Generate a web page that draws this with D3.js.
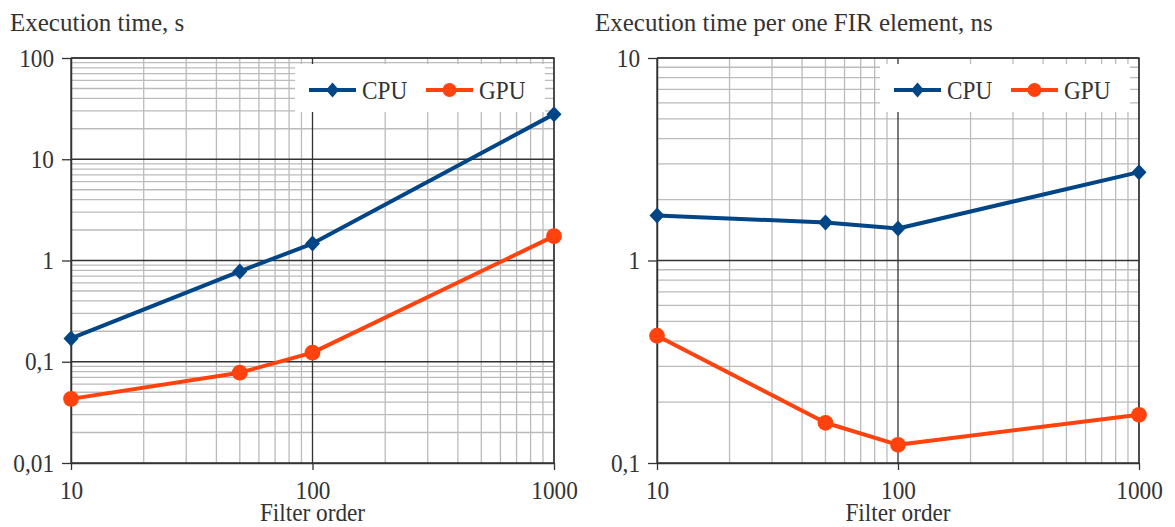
<!DOCTYPE html>
<html>
<head>
<meta charset="utf-8">
<script src="https://cdn.jsdelivr.net/npm/d3@7"></script>
<style>
  body { margin: 0; background: #fff; }
  svg { display: block; font-family: "Liberation Serif", "Times New Roman", serif; }
</style>
</head>
<body>
<div id="container"></div>
<script>
/* DATA */
const filterOrder = [10, 50, 100, 1000];
const cpuTime = [0.17, 0.78, 1.47, 27.9];
const gpuTime = [0.043, 0.078, 0.123, 1.74];
const cpuPerElement = [1.67, 1.54, 1.44, 2.73];
const gpuPerElement = [0.425, 0.158, 0.123, 0.173];

const xTickValues = [10, 100, 1000];
const xTickLabels = ["10", "100", "1000"];
const leftYTickValues = [0.01, 0.1, 1, 10, 100];
const leftYTickLabels = ["0,01", "0,1", "1", "10", "100"];
const rightYTickValues = [0.1, 1, 10];
const rightYTickLabels = ["0,1", "1", "10"];

const seriesNames = ["CPU", "GPU"];
const colors = {CPU: "#004586", GPU: "#ff420e"};

/* CONSTANTS */
const width = 1175, height = 527;
const textColor = "#333";
const squeeze = 0.93; // tick & legend text in the picture is slightly narrow

const svg = d3.select("#container")
  .append("svg")
  .attr("width", width)
  .attr("height", height);

function drawPanel(p) {
  const xScale = d3.scaleLog()
    .domain([10, 1000])
    .range([p.x0, p.x1]);
  const yScale = d3.scaleLog()
    .domain(p.yDomain)
    .range([p.y1, p.y0]);

  const g = svg.append("g");

  // minor grid
  const xMinor = xScale.ticks().filter(v => !xTickValues.includes(v));
  const yMinor = yScale.ticks().filter(v => !p.yTicks.includes(v));

  g.selectAll(".vminor").data(xMinor).join("line")
    .attr("x1", d => xScale(d)).attr("x2", d => xScale(d))
    .attr("y1", p.y0).attr("y2", p.y1)
    .attr("stroke", "#bbb").attr("stroke-width", 1.3);
  g.selectAll(".hminor").data(yMinor).join("line")
    .attr("y1", d => yScale(d)).attr("y2", d => yScale(d))
    .attr("x1", p.x0).attr("x2", p.x1)
    .attr("stroke", "#bbb").attr("stroke-width", 1.3);

  // major grid
  g.selectAll(".vmajor").data(xTickValues).join("line")
    .attr("x1", d => xScale(d)).attr("x2", d => xScale(d))
    .attr("y1", p.y0).attr("y2", p.y1)
    .attr("stroke", "#333").attr("stroke-width", 1.3);
  g.selectAll(".hmajor").data(p.yTicks).join("line")
    .attr("y1", d => yScale(d)).attr("y2", d => yScale(d))
    .attr("x1", p.x0).attr("x2", p.x1)
    .attr("stroke", "#333").attr("stroke-width", 1.3);

  // legend box (covers grid)
  const lx = p.x1 - 259, ly = 64;
  g.append("rect")
    .attr("x", lx).attr("y", ly)
    .attr("width", 250).attr("height", 48)
    .attr("fill", "#fff");

  // axes
  const xAxis = d3.axisBottom(xScale)
    .tickValues(xTickValues)
    .tickFormat((d, i) => xTickLabels[i])
    .tickSizeInner(7).tickSizeOuter(0).tickPadding(11);
  const yAxis = d3.axisLeft(yScale)
    .tickValues(p.yTicks)
    .tickFormat((d, i) => p.yLabels[i])
    .tickSizeInner(9).tickSizeOuter(0).tickPadding(8);

  const gx = g.append("g")
    .attr("transform", `translate(0,${p.y1})`)
    .call(xAxis);
  const gy = g.append("g")
    .attr("transform", `translate(${p.x0},0)`)
    .call(yAxis);

  [gx, gy].forEach(a => {
    a.select(".domain").attr("stroke", "#333").attr("stroke-width", 1.5);
    a.selectAll(".tick line").attr("stroke", "#333").attr("stroke-width", 1.3);
    a.selectAll(".tick text")
      .attr("class", "narrow")
      .attr("fill", textColor)
      .style("font-size", "25px")
      .style("font-family", "Liberation Serif");
  });

  // frame top/right
  g.append("path")
    .attr("d", `M${p.x0},${p.y0}H${p.x1}V${p.y1}`)
    .attr("fill", "none").attr("stroke", "#333").attr("stroke-width", 1.3);

  // lines
  const lineGen = d3.line()
    .x(d => xScale(d[0]))
    .y(d => yScale(d[1]));

  p.series.forEach(s => {
    const pts = filterOrder.map((x, i) => [x, s.values[i]]);
    g.append("path")
      .attr("d", lineGen(pts))
      .attr("fill", "none")
      .attr("stroke", colors[s.name])
      .attr("stroke-width", 4)
      .attr("stroke-linejoin", "round");
    g.selectAll(null).data(pts).join("path")
      .attr("transform", d => `translate(${xScale(d[0])},${yScale(d[1])})`)
      .attr("d", s.name === "CPU"
        ? "M0,-8L7.5,0L0,8L-7.5,0Z"
        : d3.symbol(d3.symbolCircle, 195)())
      .attr("fill", colors[s.name]);
  });

  // legend items
  seriesNames.forEach((name, i) => {
    const ox = lx + 14 + i * 117;
    const cy = ly + 26;
    g.append("line")
      .attr("x1", ox).attr("x2", ox + 47)
      .attr("y1", cy).attr("y2", cy)
      .attr("stroke", colors[name]).attr("stroke-width", 4);
    g.append("path")
      .attr("transform", `translate(${ox + 23.5},${cy})`)
      .attr("d", name === "CPU"
        ? "M0,-7.5L6.5,0L0,7.5L-6.5,0Z"
        : d3.symbol(d3.symbolCircle, 150)())
      .attr("fill", colors[name]);
    g.append("text")
      .attr("class", "narrow")
      .attr("x", ox + 53).attr("y", cy + 8.5)
      .attr("fill", textColor)
      .style("font-size", "25px")
      .text(name);
  });

  // titles
  g.append("text")
    .attr("x", p.titleX).attr("y", 31)
    .attr("fill", textColor)
    .style("font-size", "25px")
    .text(p.title);
  g.append("text")
    .attr("class", "narrow")
    .attr("x", (p.x0 + p.x1) / 2).attr("y", 521)
    .attr("text-anchor", "middle")
    .attr("fill", textColor)
    .style("font-size", "25px")
    .text("Filter order");
}

drawPanel({
  x0: 71, x1: 554, y0: 58, y1: 463,
  yDomain: [0.01, 100],
  yTicks: leftYTickValues, yLabels: leftYTickLabels,
  title: "Execution time, s", titleX: 10,
  series: [{name: "CPU", values: cpuTime}, {name: "GPU", values: gpuTime}]
});

drawPanel({
  x0: 657, x1: 1139, y0: 58, y1: 463,
  yDomain: [0.1, 10],
  yTicks: rightYTickValues, yLabels: rightYTickLabels,
  title: "Execution time per one FIR element, ns", titleX: 595,
  series: [{name: "CPU", values: cpuPerElement}, {name: "GPU", values: gpuPerElement}]
});

// narrow tick/legend text a little, like the source image
svg.selectAll("text.narrow").each(function() {
  const len = this.getComputedTextLength();
  d3.select(this)
    .attr("textLength", len * squeeze)
    .attr("lengthAdjust", "spacingAndGlyphs");
});
</script>
</body>
</html>
